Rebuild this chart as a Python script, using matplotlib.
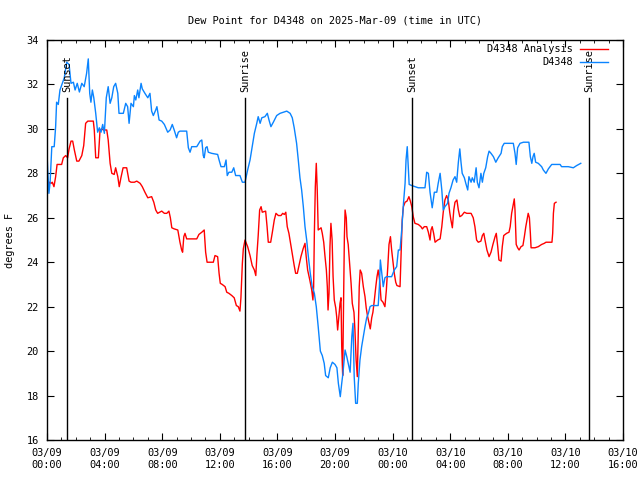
import matplotlib
matplotlib.use('Agg')
import matplotlib.pyplot as plt
import matplotlib.dates as mdates
import pandas as pd

start = pd.Timestamp('2025-03-09 00:00')

# D4348 Analysis (red): minutes after 03/09 00:00 UTC, dew point in F
ana_min = [0, 5, 10, 17, 22, 29, 36, 42, 61, 68, 78, 86, 92, 100, 107, 114, 124, 133, 145, 153,
           161, 170, 193, 197, 203, 214, 221, 228, 235, 249, 255, 263, 270, 280, 286, 295, 301, 308,
           317, 332, 342, 350, 364, 374, 388, 397, 408, 420, 436, 445, 453, 461, 478, 489, 499, 508,
           514, 520, 530, 545, 554, 561, 565, 570, 575, 582, 624, 633, 645, 655, 661, 667, 693, 700,
           711, 717, 722, 730, 742, 749, 758, 770, 780, 789, 797, 804, 808, 814, 818, 825, 836, 846,
           855, 864, 870, 875, 880, 886, 892, 897, 911, 917, 922, 932, 939, 947, 954, 964, 975, 982,
           989, 995, 1001, 1008, 1017, 1024, 1030, 1036, 1043, 1050, 1058, 1067, 1075, 1080, 1086,
           1095, 1103, 1108, 1111, 1114, 1118, 1122, 1126, 1130, 1142, 1147, 1153, 1158, 1164, 1168,
           1171, 1175, 1179, 1183, 1188, 1192, 1197, 1203, 1207, 1211, 1217, 1221, 1225, 1228, 1232,
           1236, 1239, 1242, 1247, 1250, 1255, 1261, 1267, 1272, 1279, 1283, 1288, 1293, 1297, 1301,
           1305, 1311, 1318, 1325, 1330, 1336, 1342, 1347, 1353, 1358, 1364, 1370, 1375, 1380, 1386,
           1392, 1400, 1408, 1414, 1420, 1425, 1431, 1436, 1442, 1447, 1453, 1458, 1471, 1475, 1480,
           1485, 1492, 1500, 1508, 1514, 1520, 1526, 1533, 1547, 1558, 1564, 1572, 1582, 1589, 1596,
           1600, 1605, 1611, 1617, 1628, 1638, 1645, 1651, 1658, 1665, 1672, 1678, 1683, 1689, 1695,
           1700, 1708, 1714, 1720, 1728, 1739, 1749, 1767, 1776, 1783, 1790, 1797, 1808, 1814, 1820,
           1825, 1833, 1842, 1850, 1858, 1867, 1872, 1878, 1883, 1892, 1897, 1903, 1915, 1925, 1930,
           1936, 1942, 1947, 1950, 1955, 1961, 1967, 1975, 1983, 1989, 1995, 2000, 2005, 2010, 2014,
           2017, 2033, 2047, 2061, 2072, 2079, 2104, 2107, 2110, 2114, 2121]
ana_dp = [27.4, 27.3, 27.6, 27.55, 27.6, 27.4, 27.85, 28.4, 28.4, 28.7, 28.8, 28.7, 29.1, 29.45,
          29.45, 29.05, 28.55, 28.55, 28.8, 29.25, 30.25, 30.35, 30.35, 29.95, 28.7, 28.7, 29.95,
          30.0, 29.95, 29.95, 29.5, 28.45, 28.0, 27.95, 28.25, 27.85, 27.4, 27.8, 28.25, 28.25,
          27.65, 27.6, 27.6, 27.65, 27.55, 27.4, 27.15, 26.9, 26.95, 26.7, 26.35, 26.2, 26.3, 26.2,
          26.2, 26.3, 26.0, 25.55, 25.5, 25.45, 24.9, 24.55, 24.45, 25.15, 25.3, 25.05, 25.05,
          25.25, 25.35, 25.45, 24.45, 24.0, 24.0, 24.3, 24.25, 23.5, 23.05, 23.0, 22.9, 22.65,
          22.6, 22.5, 22.4, 22.05, 22.0, 21.8, 22.4, 23.95, 24.6, 25.0, 24.7, 24.3, 23.85, 23.65,
          23.4, 24.4, 25.2, 26.35, 26.5, 26.25, 26.3, 25.6, 24.9, 24.9, 25.35, 25.9, 26.2, 26.1,
          26.1, 26.2, 26.15, 26.25, 25.6, 25.3, 24.7, 24.25, 23.85, 23.5, 23.5, 23.85, 24.25, 24.6,
          24.85, 24.25, 23.65, 23.2, 22.75, 22.3, 22.9, 25.3, 27.4, 28.45, 27.25, 25.45, 25.55,
          25.3, 24.9, 24.3, 23.65, 22.9, 21.85, 22.6, 24.7, 25.75, 25.0, 23.35, 22.3, 21.95, 21.55,
          20.95, 21.7, 22.15, 22.4, 20.2, 18.9, 22.6, 25.1, 26.35, 26.0, 25.15, 24.8, 23.95, 23.05,
          22.15, 21.75, 20.95, 19.6, 18.85, 20.95, 22.9, 23.65, 23.5, 22.9, 22.45, 21.95, 21.55,
          21.25, 21.0, 21.5, 21.75, 22.3, 22.9, 23.35, 23.65, 23.2, 22.3, 22.2, 22.0, 22.75, 23.8,
          24.8, 25.15, 24.55, 24.0, 23.5, 23.1, 22.95, 22.9, 24.25, 25.9, 26.5, 26.7, 26.75, 26.95,
          26.75, 26.5, 26.05, 25.75, 25.7, 25.6, 25.5, 25.6, 25.6, 25.35, 25.0, 25.45, 25.6, 25.3,
          24.9, 25.0, 25.05, 25.6, 26.25, 26.8, 27.0, 26.8, 26.25, 25.9, 25.55, 26.35, 26.7, 26.8,
          26.35, 26.05, 26.1, 26.25, 26.2, 26.2, 26.0, 25.6, 25.0, 24.9, 24.95, 25.2, 25.3, 25.0,
          24.55, 24.25, 24.45, 24.8, 25.15, 25.3, 24.7, 24.1, 24.05, 24.7, 25.2, 25.3, 25.35, 25.6,
          26.2, 26.55, 26.85, 26.35, 24.8, 24.65, 24.55, 24.7, 24.75, 25.15, 25.6, 25.9, 26.2, 26.0,
          25.3, 24.65, 24.65, 24.7, 24.8, 24.85, 24.9, 24.9, 25.3, 26.2, 26.65, 26.7]

# D4348 observations (blue)
obs_min = [0, 3, 8, 13, 20, 30, 36, 40, 47, 54, 64, 72, 82, 92, 100, 110, 117, 126, 135, 145, 155,
           165, 172, 178, 183, 189, 195, 203, 211, 218, 225, 232, 239, 247, 255, 263, 270, 278, 286,
           295, 300, 318, 328, 336, 342, 350, 360, 364, 370, 378, 383, 392, 397, 408, 420, 429, 436,
           443, 453, 458, 467, 478, 489, 495, 503, 513, 522, 530, 540, 547, 554, 582, 589, 596, 603,
           624, 638, 645, 651, 655, 661, 667, 672, 686, 711, 717, 725, 739, 746, 751, 758, 770, 778,
           786, 804, 814, 825, 836, 846, 855, 864, 874, 880, 888, 895, 908, 918, 925, 933, 943, 957,
           971, 985, 999, 1013, 1022, 1030, 1040, 1047, 1054, 1061, 1068, 1075, 1082, 1089, 1097,
           1105, 1114, 1122, 1130, 1139, 1147, 1155, 1161, 1172, 1180, 1189, 1200, 1208, 1214, 1222,
           1228, 1233, 1242, 1249, 1255, 1263, 1270, 1275, 1280, 1286, 1293, 1297, 1304, 1311, 1318,
           1325, 1332, 1339, 1346, 1353, 1380, 1385, 1389, 1395, 1401, 1408, 1415, 1436, 1447, 1457,
           1464, 1471, 1478, 1485, 1492, 1496, 1501, 1505, 1509, 1520, 1547, 1575, 1582, 1589, 1596,
           1605, 1614, 1624, 1630, 1638, 1645, 1651, 1658, 1669, 1675, 1683, 1692, 1700, 1707, 1714,
           1720, 1725, 1730, 1739, 1745, 1753, 1758, 1767, 1772, 1780, 1788, 1793, 1800, 1808, 1814,
           1820, 1828, 1836, 1842, 1850, 1860, 1870, 1880, 1892, 1897, 1905, 1922, 1943, 1950, 1955,
           1961, 1971, 1985, 2008, 2014, 2020, 2025, 2030, 2036, 2047, 2061, 2068, 2079, 2089, 2103,
           2138, 2144, 2172, 2193, 2207, 2224]
obs_dp = [28.9, 28.15, 27.1, 27.6, 29.2, 29.2, 30.1, 31.2, 31.1, 31.75, 32.05, 32.3, 33.0, 32.9,
          32.05, 32.1, 31.75, 32.05, 31.66, 32.05, 31.9, 32.5, 33.15, 31.6, 31.2, 31.75, 31.4, 30.7,
          29.85, 30.05, 29.85, 30.2, 29.8, 31.4, 31.9, 31.15, 31.4, 31.9, 32.05, 31.6, 30.7, 30.7,
          31.15, 31.0, 30.25, 31.15, 31.0, 31.5, 31.3, 31.75, 31.4, 32.05, 31.8, 31.6, 31.4, 31.6,
          30.8, 30.6, 30.85, 31.0, 30.4, 30.35, 30.2, 30.05, 29.85, 29.95, 30.2, 29.95, 29.6, 29.85,
          29.9, 29.9, 29.15, 28.95, 29.2, 29.2, 29.45, 29.5, 28.8, 28.7, 29.15, 29.2, 28.95, 28.9,
          28.85, 28.6, 28.3, 28.3, 28.6, 27.9, 28.05, 28.05, 28.25, 27.9, 27.9, 27.6, 27.6, 28.15,
          28.6, 29.2, 29.8, 30.25, 30.55, 30.25, 30.5, 30.55, 30.7, 30.4, 30.1, 30.3, 30.6, 30.7,
          30.75, 30.8, 30.7, 30.5, 30.05, 29.35, 28.6, 27.8, 27.25, 26.5, 25.6, 25.0, 24.25, 23.5,
          22.9, 22.6, 22.0, 21.1, 20.0, 19.8, 19.45, 18.9, 18.8, 19.25, 19.5, 19.4, 19.25, 18.55,
          17.95, 18.55, 19.0, 20.05, 19.75, 19.45, 19.05, 20.65, 21.25, 18.85, 17.65, 17.65, 18.55,
          19.6, 20.2, 20.65, 21.1, 21.5, 21.7, 22.0, 22.05, 22.05, 22.9, 24.1, 23.5, 22.9, 23.3,
          23.35, 23.35, 23.65, 23.8, 24.55, 24.55, 25.45, 26.6, 27.55, 28.6, 29.2, 28.3, 27.5, 27.45,
          27.35, 27.35, 28.05, 28.0, 27.15, 26.45, 27.15, 27.15, 27.55, 28.0, 27.25, 26.35, 26.5,
          26.65, 27.1, 27.35, 27.7, 27.85, 27.6, 28.5, 29.1, 28.5, 28.0, 27.8, 27.55, 27.25, 27.85,
          27.6, 27.8, 27.6, 28.25, 27.6, 27.35, 28.0, 27.6, 28.0, 28.25, 28.75, 29.0, 28.9, 28.75,
          28.5, 28.7, 28.9, 29.2, 29.35, 29.35, 29.35, 28.9, 28.4, 29.15, 29.35, 29.4, 29.4, 28.75,
          28.45, 28.75, 28.9, 28.5, 28.45, 28.3, 28.15, 28.0, 28.2, 28.4, 28.4, 28.3, 28.3, 28.25,
          28.35, 28.45]

sun_events = [('Sunset', '2025-03-09 01:23'), ('Sunrise', '2025-03-09 13:45'),
              ('Sunset', '2025-03-10 01:21'), ('Sunrise', '2025-03-10 13:38')]

plt.rcParams['font.family'] = ['DejaVu Sans Mono']
plt.rcParams['font.size'] = 7.4

t_ana = start + pd.to_timedelta(ana_min, unit='min')
t_obs = start + pd.to_timedelta(obs_min, unit='min')

fig = plt.figure(figsize=(6.4, 4.8), dpi=100)
ax = fig.add_axes([47 / 640, 40 / 480, 576 / 640, 400 / 480])

ax.plot(t_ana, ana_dp, color='#ff0000', lw=1.0, label='D4348 Analysis')
ax.plot(t_obs, obs_dp, color='#0a84ff', lw=1.0, label='D4348')

for name, ts in sun_events:
    t = pd.Timestamp(ts)
    ax.axvline(t, ymin=0, ymax=0.855, color='black', lw=1.0)
    ax.text(t, 0.87, name, rotation=90, ha='center', va='bottom',
            transform=ax.get_xaxis_transform())

ax.set_xlim(start, pd.Timestamp('2025-03-10 16:00'))
ax.set_ylim(16, 34)
ax.set_yticks(range(16, 35, 2))
ax.xaxis.set_major_locator(mdates.HourLocator(byhour=range(0, 24, 4)))
ax.xaxis.set_minor_locator(mdates.HourLocator())
ax.xaxis.set_major_formatter(mdates.DateFormatter('%m/%d\n%H:%M'))
ax.tick_params(which='both', direction='in', top=True, right=True)
ax.tick_params(which='major', length=5, pad=6)
ax.tick_params(which='minor', length=2.5)
for s in ax.spines.values():
    s.set_linewidth(1.0)

ax.set_title('Dew Point for D4348 on 2025-Mar-09 (time in UTC)', fontsize=7.4, pad=12)
ax.set_ylabel('degrees F')
ax.yaxis.set_label_coords(-0.055, 0.5)

ax.legend(loc='upper right', bbox_to_anchor=(1 - 8 / 576, 1 + 3 / 400), frameon=False,
          markerfirst=False, handlelength=2.7, handletextpad=0.7, labelspacing=0.3,
          borderaxespad=0.3)

fig.savefig('out.png', dpi=100)
